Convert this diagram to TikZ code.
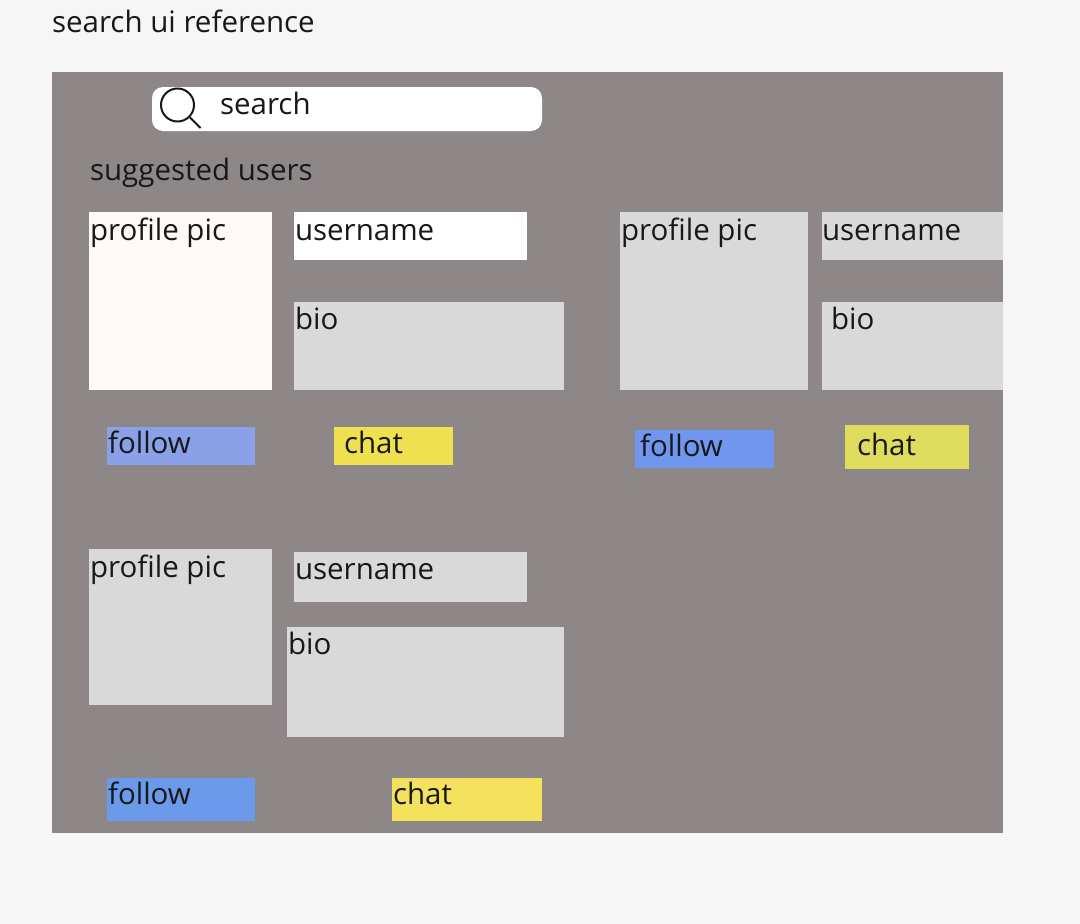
\documentclass[tikz,border=0pt]{standalone}
\usepackage{fontspec}
\setmainfont{Open Sans}
\usetikzlibrary{positioning}
\definecolor{pagecol}{RGB}{246, 246, 246}
\definecolor{panelcol}{RGB}{142, 135, 135}
\definecolor{greycol}{RGB}{217, 217, 217}
\definecolor{piccol}{RGB}{255, 249, 248}
\definecolor{inkcol}{RGB}{24, 24, 24}
\definecolor{followa}{RGB}{138, 160, 232}
\definecolor{followb}{RGB}{112, 150, 240}
\definecolor{followc}{RGB}{107, 154, 234}
\definecolor{chata}{RGB}{239, 224, 80}
\definecolor{chatb}{RGB}{223, 219, 92}
\definecolor{chatc}{RGB}{245, 226, 92}
\tikzset{
  boxnode/.style={anchor=north west, inner sep=0pt, outer sep=0pt},
  lbl/.style={anchor=north west, inner sep=0pt, outer sep=0pt, font=\fontsize{29.5}{30}\selectfont,
              text=inkcol, text height=21pt, text depth=6pt},
}

\begin{document}
\begin{tikzpicture}[x=1pt, y=-1pt]
  \useasboundingbox (0,0) rectangle (1080,924);
  \fill[pagecol] (0,0) rectangle (1080,924);

  \node[lbl] (title) at (52,11) {search ui reference};
  \node[boxnode, fill=panelcol, minimum width=951pt, minimum height=761pt] (panel) at (52,72) {};

  % search bar
  \node[boxnode, fill=white, rounded corners=11pt, minimum width=390pt, minimum height=44pt] (bar) at (152,87) {};
  \node[circle, draw=inkcol, line width=2pt, minimum size=33pt, inner sep=0pt] (lens) at (177.5,105) {};
  \coordinate (handle) at (200.5,128);
  \draw[inkcol, line width=2pt] (lens.south east) -- (handle);
  \node[lbl] (searchlbl) at (220,93) {search};
  \node[lbl] (suggested) at (90,159) {suggested users};

  % first user
  \node[boxnode, fill=piccol, minimum width=183pt, minimum height=178pt] (pic1) at (89,212) {};
  \node[boxnode, fill=white, minimum width=233pt, minimum height=48pt] (name1) at (294,212) {};
  \node[boxnode, fill=greycol, minimum width=270pt, minimum height=88pt] (bio1) at (294,302) {};
  \node[boxnode, fill=followa, minimum width=148pt, minimum height=38pt] (follow1) at (107,427) {};
  \node[boxnode, fill=chata, minimum width=119pt, minimum height=38pt] (chat1) at (334,427) {};
  \node[lbl] at (90,219) {profile pic};
  \node[lbl] at (295,219) {username};
  \node[lbl] at (295,308) {bio};
  \node[lbl] at (108,432) {follow};
  \node[lbl] at (344,432) {chat};

  % second user
  \node[boxnode, fill=greycol, minimum width=188pt, minimum height=178pt] (pic2) at (620,212) {};
  \node[boxnode, fill=greycol, minimum width=181pt, minimum height=48pt] (name2) at (822,212) {};
  \node[boxnode, fill=greycol, minimum width=181pt, minimum height=88pt] (bio2) at (822,302) {};
  \node[boxnode, fill=followb, minimum width=139pt, minimum height=38pt] (follow2) at (635,430) {};
  \node[boxnode, fill=chatb, minimum width=124pt, minimum height=44pt] (chat2) at (845,425) {};
  \node[lbl] at (621,219) {profile pic};
  \node[lbl] at (822,219) {username};
  \node[lbl] at (831,308) {bio};
  \node[lbl] at (640,435) {follow};
  \node[lbl] at (857,434) {chat};

  % third user
  \node[boxnode, fill=greycol, minimum width=183pt, minimum height=156pt] (pic3) at (89,549) {};
  \node[boxnode, fill=greycol, minimum width=233pt, minimum height=50pt] (name3) at (294,552) {};
  \node[boxnode, fill=greycol, minimum width=277pt, minimum height=110pt] (bio3) at (287,627) {};
  \node[boxnode, fill=followc, minimum width=148pt, minimum height=43pt] (follow3) at (107,778) {};
  \node[boxnode, fill=chatc, minimum width=150pt, minimum height=43pt] (chat3) at (392,778) {};
  \node[lbl] at (90,556) {profile pic};
  \node[lbl] at (295,558) {username};
  \node[lbl] at (288,633) {bio};
  \node[lbl] at (108,783) {follow};
  \node[lbl] at (393,783) {chat};
\end{tikzpicture}
\end{document}
